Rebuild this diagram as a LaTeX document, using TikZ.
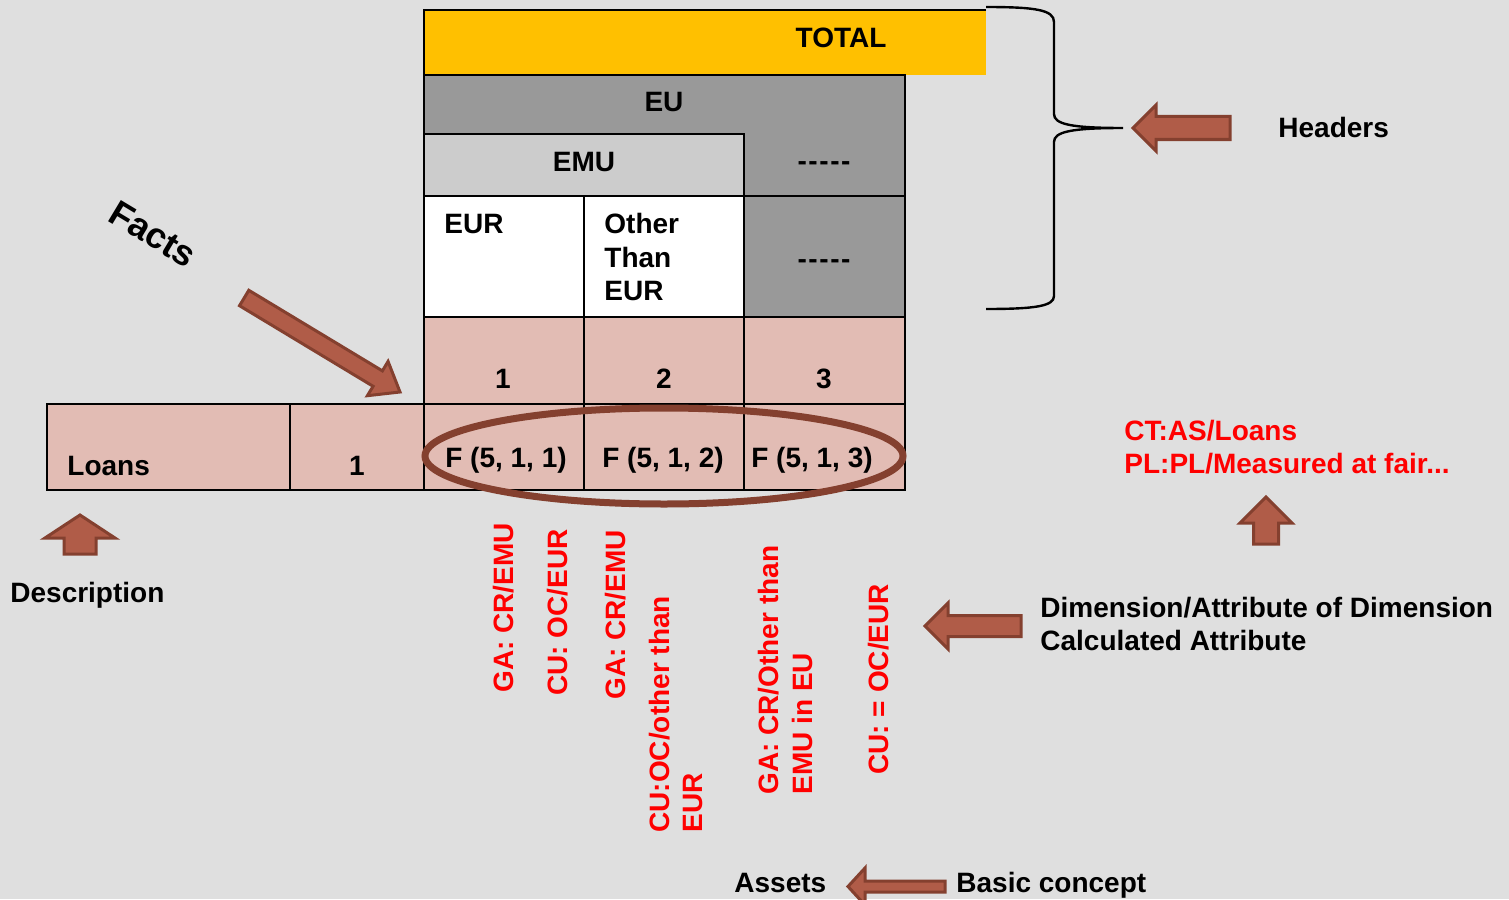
\documentclass[tikz,border=0pt]{standalone}
\usepackage{fontspec}
\setmainfont{Liberation Sans}
\usetikzlibrary{shapes.geometric}
\definecolor{bg}{HTML}{DFDFDF}
\definecolor{pinkc}{HTML}{E2BCB4}
\definecolor{dgray}{HTML}{999999}
\definecolor{lgray}{HTML}{CCCCCC}
\definecolor{gold}{HTML}{FFC000}
\definecolor{brownline}{HTML}{84402F}
\definecolor{brownfill}{HTML}{B05C48}
\definecolor{redtext}{HTML}{FF0000}
\newcommand\dashrow{-\kern0.8pt-\kern0.8pt-\kern0.8pt-\kern0.8pt-}
\tikzset{
  arrowsty/.style={draw=brownline, fill=brownfill, line width=1.5pt, line join=miter},
  pics/barrow/.style n args={4}{code={
    \draw[arrowsty] (0,0) -- (-#4,#3) -- (-#4,#2) -- (-#1,#2) -- (-#1,-#2) -- (-#4,-#2) -- (-#4,-#3) -- cycle;
  }},
  txt/.style={inner sep=0pt, font=\bfseries\fontsize{14}{16}\selectfont},
  rtxt/.style={txt, text=redtext},
  vtxt/.style={rtxt, rotate=90, anchor=base west},
  gridline/.style={draw=black, line width=1.3pt},
}
\begin{document}
\begin{tikzpicture}[x=0.5pt,y=-0.5pt]
\fill[bg] (0,0) rectangle (1509,899);
\useasboundingbox (0,0) rectangle (1509,899);

% header block
\fill[gold] (424,10) rectangle (986,75);
\draw[gridline] (986,10) -- (424,10) -- (424,75);
\draw[gridline, fill=dgray] (424,75) rectangle (905,317);
\draw[gridline, fill=lgray] (424,134) rectangle (744,196);
\draw[gridline, fill=white] (424,196) rectangle (584,317);
\draw[gridline, fill=white] (584,196) rectangle (744,317);
\draw[gridline] (744,196) -- (905,196);

% pink rows
\draw[gridline, fill=pinkc] (424,317) rectangle (584,404);
\draw[gridline, fill=pinkc] (584,317) rectangle (744,404);
\draw[gridline, fill=pinkc] (744,317) rectangle (905,404);
\draw[gridline, fill=pinkc] (424,404) rectangle (584,490);
\draw[gridline, fill=pinkc] (584,404) rectangle (744,490);
\draw[gridline, fill=pinkc] (744,404) rectangle (905,490);
\draw[gridline, fill=pinkc] (47,404) rectangle (290,490);
\draw[gridline, fill=pinkc] (290,404) rectangle (424,490);

% header texts
\node[txt, anchor=base] (total) at (841,48) {TOTAL};
\node[txt, anchor=base] (eu) at (664,112) {EU};
\node[txt, anchor=base] (emu) at (584,171) {EMU};
\node[txt, anchor=base] (dashA) at (824,170) {\dashrow};
\node[txt, anchor=base west] (eur) at (444,233) {EUR};
\node[txt, anchor=base west] (oth1) at (604,233) {Other};
\node[txt, anchor=base west] (oth2) at (604,267) {Than};
\node[txt, anchor=base west] (oth3) at (604,300) {EUR};
\node[txt, anchor=base] (dashB) at (824,268) {\dashrow};
\node[txt, anchor=base] (n1) at (503,388) {1};
\node[txt, anchor=base] (n2) at (664,388) {2};
\node[txt, anchor=base] (n3) at (824,388) {3};
\node[txt, anchor=base] (f1) at (506,467) {F (5, 1, 1)};
\node[txt, anchor=base] (f2) at (663,467) {F (5, 1, 2)};
\node[txt, anchor=base] (f3) at (812,467) {F (5, 1, 3)};
\node[txt, anchor=base west] (loans) at (67,475) {Loans};
\node[txt, anchor=base] (one) at (357,475) {1};

% ellipse around facts
\node[draw=brownline, line width=3.5pt, ellipse, minimum width=239pt, minimum height=48pt, inner sep=0pt] (ell) at (664,456) {};

% brace
\draw[line width=1.2pt] (986,7) .. controls (1036,7) and (1054,10) .. (1054,22)
  -- (1054,114) .. controls (1054,124) and (1070,128) .. (1123,128)
  .. controls (1070,128) and (1054,132) .. (1054,142)
  -- (1054,296) .. controls (1054,306) and (1036,309) .. (986,309);

% block arrows
\pic[rotate=180] at (1133,128) {barrow={97}{11.5}{23}{23}};
\pic[rotate=-31.1] at (400,392) {barrow={182}{9}{20}{26}};
\pic[rotate=90] at (80,515) {barrow={39}{16}{35}{23}};
\pic[rotate=90] at (1266,497) {barrow={47}{12.5}{26}{26}};
\pic[rotate=180] at (925,626) {barrow={96}{10.5}{23}{23}};
\pic[rotate=180] at (848,886.5) {barrow={97}{5.5}{18.5}{17}};

% side texts
\node[txt, font=\bfseries\fontsize{18}{20}\selectfont, rotate=-31] (facts) at (153,234) {Facts};
\node[txt, anchor=base west] (headers) at (1278,138) {Headers};
\node[txt, anchor=base west] (descr) at (10,602) {Description};
\node[rtxt, anchor=base west] (ct) at (1124,440) {CT:AS/Loans};
\node[rtxt, anchor=base west] (pl) at (1124,473) {PL:PL/Measured at fair...};
\node[txt, anchor=base west] (dim) at (1040,617) {Dimension/Attribute of Dimension};
\node[txt, anchor=base west] (calc) at (1040,650) {Calculated Attribute};
\node[txt, anchor=base west] (assets) at (734,892) {Assets};
\node[txt, anchor=base west] (basic) at (956,892) {Basic concept};

% vertical red texts
\node[vtxt] (r1) at (513,693) {GA: CR/EMU};
\node[vtxt] (r2) at (567,696) {CU: OC/EUR};
\node[vtxt] (r3) at (625,700) {GA: CR/EMU};
\node[vtxt] (r4a) at (669,833) {CU:OC/other than};
\node[vtxt] (r4b) at (702,833) {EUR};
\node[vtxt] (r5a) at (778,795) {GA: CR/Other than};
\node[vtxt] (r5b) at (812,795) {EMU in EU};
\node[vtxt] (r6) at (888,775) {CU: = OC/EUR};
\end{tikzpicture}
\end{document}
